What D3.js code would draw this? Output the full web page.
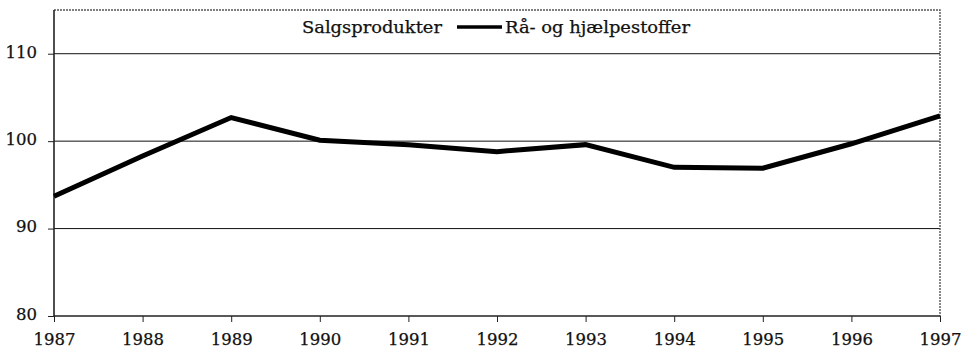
<!DOCTYPE html>
<html>
<head>
<meta charset="utf-8">
<script src="https://cdn.jsdelivr.net/npm/d3@7"></script>
<style>
  html, body { margin: 0; padding: 0; background: #fff; }
  svg { display: block; }
  text { font-family: "DejaVu Serif", serif; fill: #111; }
</style>
</head>
<body>
<svg id="chart" width="969" height="353"></svg>
<script>
// Years on the horizontal axis
const years = [1987, 1988, 1989, 1990, 1991, 1992, 1993, 1994, 1995, 1996, 1997];
// Index, raw materials and auxiliary substances
const raaHjaelpestoffer = [93.7, 98.3, 102.7, 100.1, 99.6, 98.8, 99.6, 97.0, 96.9, 99.7, 102.9];
// Value axis ticks and gridlines
const yTicks = [80, 90, 100, 110];
const yGrid = [90, 100, 110];
const yDomain = [80, 115];
// Legend entries
const legendLabels = ["Salgsprodukter", "Rå- og hjælpestoffer"];

const svg = d3.select("#chart");
const margin = { left: 54, right: 29, top: 10, bottom: 37 };
const W = 969, H = 353;
const labelFont = 16.5;

const x = d3.scaleLinear()
  .domain([years[0], years[years.length - 1]])
  .range([margin.left, W - margin.right]);
const y = d3.scaleLinear()
  .domain(yDomain)
  .range([H - margin.bottom, margin.top]);

// Horizontal gridlines
svg.append("g")
  .selectAll("line")
  .data(yGrid)
  .join("line")
  .attr("x1", x.range()[0])
  .attr("x2", x.range()[1])
  .attr("y1", d => y(d))
  .attr("y2", d => y(d))
  .attr("stroke", "#111")
  .attr("stroke-width", 1);

// Frame: top and right edges
svg.append("path")
  .attr("d", `M${x.range()[0]},${y(yDomain[1])}H${x.range()[1]}V${y(yDomain[0])}`)
  .attr("fill", "none")
  .attr("stroke", "#555")
  .attr("stroke-width", 1.4)
  .attr("stroke-dasharray", "2,1");

// Left value axis
const yAxis = svg.append("g")
  .attr("transform", `translate(${margin.left},0)`)
  .call(d3.axisLeft(y).tickValues(yTicks).tickSize(6).tickPadding(11).tickFormat(d3.format("d")));
yAxis.select(".domain").attr("stroke", "#222").attr("stroke-width", 1.6)
  .attr("d", `M0,${y(yDomain[0])}V${y(yDomain[1])}`);
yAxis.selectAll(".tick line").attr("stroke", "#222");
yAxis.selectAll(".tick text")
  .attr("font-size", labelFont)
  .attr("fill", "#111")
  .attr("stroke", "#111").attr("stroke-width", 0.25)
  .attr("dy", "0.2em");

// Bottom year axis
const xAxis = svg.append("g")
  .attr("transform", `translate(0,${y(yDomain[0])})`)
  .call(d3.axisBottom(x).tickValues(years).tickSize(6).tickPadding(11).tickFormat(d3.format("d")));
xAxis.select(".domain").attr("stroke", "#222").attr("stroke-width", 1.6)
  .attr("d", `M${x.range()[0]},0H${x.range()[1]}`);
xAxis.selectAll(".tick line").attr("stroke", "#222");
xAxis.selectAll(".tick text")
  .attr("font-size", labelFont)
  .attr("fill", "#111")
  .attr("stroke", "#111").attr("stroke-width", 0.25);

// Data line
const line = d3.line()
  .x((d, i) => x(years[i]))
  .y(d => y(d));
svg.append("path")
  .datum(raaHjaelpestoffer)
  .attr("d", line)
  .attr("fill", "none")
  .attr("stroke", "#000")
  .attr("stroke-width", 5)
  .attr("stroke-linejoin", "miter")
  .attr("stroke-linecap", "butt");

// Legend
const legend = svg.append("g").attr("transform", "translate(302,33)");
legend.append("text")
  .attr("x", 0).attr("y", 0)
  .attr("font-size", 17)
  .attr("stroke", "#111").attr("stroke-width", 0.25)
  .attr("textLength", 140)
  .attr("lengthAdjust", "spacingAndGlyphs")
  .text(legendLabels[0]);
legend.append("line")
  .attr("x1", 155).attr("x2", 200)
  .attr("y1", -6).attr("y2", -6)
  .attr("stroke", "#000")
  .attr("stroke-width", 3.5);
legend.append("text")
  .attr("x", 203).attr("y", 0)
  .attr("font-size", 17)
  .attr("stroke", "#111").attr("stroke-width", 0.25)
  .attr("textLength", 185)
  .attr("lengthAdjust", "spacingAndGlyphs")
  .text(legendLabels[1]);
</script>
</body>
</html>
